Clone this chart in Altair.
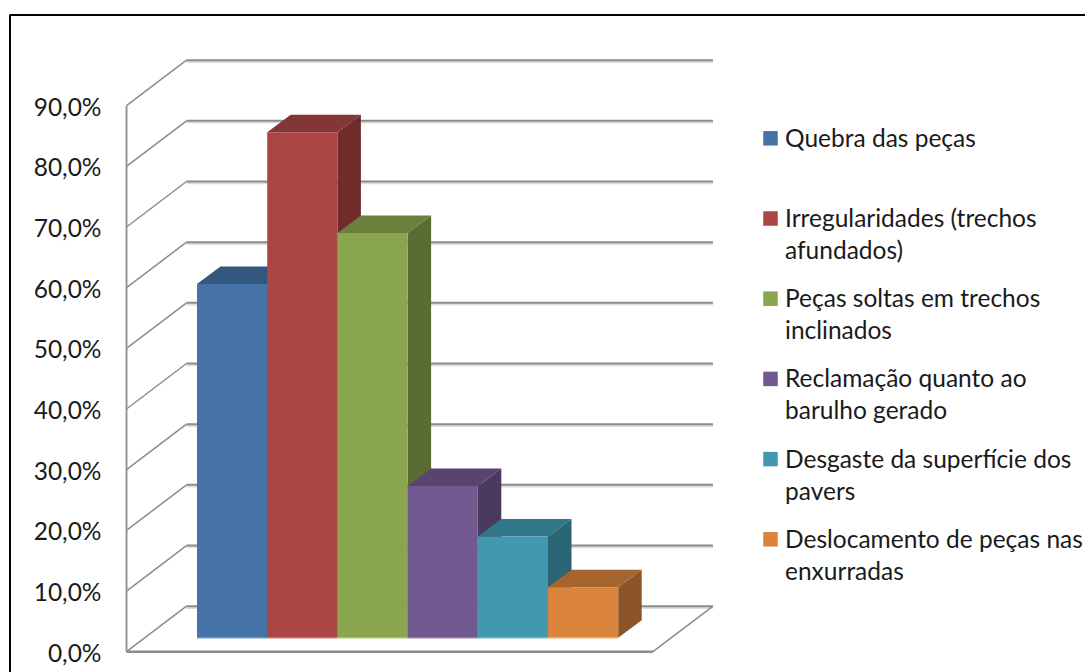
import altair as alt
import pandas as pd

# Survey results, one column per reported problem
labels = [
    ["Quebra das peças"],
    ["Irregularidades (trechos", "afundados)"],
    ["Peças soltas em trechos", "inclinados"],
    ["Reclamação quanto ao", "barulho gerado"],
    ["Desgaste da superfície dos", "pavers"],
    ["Deslocamento de peças nas", "enxurradas"],
]
values = [58.3, 83.3, 66.7, 25.0, 16.7, 8.3]
ticks = [0, 10, 20, 30, 40, 50, 60, 70, 80, 90]
face_colors = ["#4572A7", "#AA4643", "#89A54E", "#71588F", "#4198AF", "#DB843D"]
top_colors = ["#34577F", "#843535", "#6A803D", "#57446F", "#32768A", "#A6642E"]
side_colors = ["#2F4F74", "#6F2C2A", "#5A6C33", "#4A3A5E", "#2A6475", "#8B5527"]
base_colors = ["#6F94C4", "#C77573", "#A9C277", "#9280AC", "#6FB6C8", "#EDAA70"]

# Page layout of the oblique projection
W, H = 1085, 672
PAD_L, PAD_T = 10, 15
ZERO_Y = 651.7        # pixel row of 0 % on the front edge
PX_PER_UNIT = 6.067   # pixels per percentage point
WALL_L, WALL_R = 126.5, 186.5
FLOOR_R, BACK_R = 653.0, 713.0
WALL_DEPTH = 45.5 / PX_PER_UNIT
BAR_START = 197.0
BAR_W = 70.2
BAR_DX = 23.5
BAR_DEPTH = 17.5 / PX_PER_UNIT
BAR_BASE = 14.0 / PX_PER_UNIT
LEGEND_X, TEXT_X = 770.5, 785
LEGEND_TOP, LEGEND_STEP, LINE_STEP = 138.3, 80.2, 32
FONT = "Lato"
FONT_SIZE = 24.5
TEXT_COLOR = "#1A1A1A"


def units(py):
    """Convert a page row into percentage units."""
    return (ZERO_Y - py) / PX_PER_UNIT


x_scale = alt.Scale(domain=[PAD_L, W], range=[0, W - PAD_L], nice=False, zero=False)
y_scale = alt.Scale(domain=[units(H), units(PAD_T)], range=[H - PAD_T, 0], nice=False, zero=False)
X = alt.X("x:Q", scale=x_scale, axis=None)
Y = alt.Y(
    "y:Q",
    scale=y_scale,
    title=None,
    axis=alt.Axis(
        values=ticks,
        offset=-(102 - PAD_L),
        domain=False,
        ticks=False,
        grid=False,
        labelPadding=1,
        labelOffset=2.5,
        labelFont=FONT,
        labelFontSize=FONT_SIZE,
        labelColor=TEXT_COLOR,
        labelExpr="replace(format(datum.value, '.1f'), '.', ',') + '%'",
    ),
)

GRID = "#8C8C8C"
HALO = "#DDDDDD"
layers = []

# Left wall, floor and back-wall gridlines
back = pd.DataFrame({"x": WALL_L + 60, "x2": BACK_R, "y": [t + WALL_DEPTH for t in ticks]})
halo = back.assign(y=lambda d: d.y - 0.2)
layers.append(alt.Chart(halo).mark_rule(color=HALO, strokeWidth=3).encode(x=X, x2="x2:Q", y=Y))
layers.append(alt.Chart(back).mark_rule(color=GRID, strokeWidth=2).encode(x=X, x2="x2:Q", y=Y))

slants = pd.DataFrame(
    [{"x": WALL_L, "y": t, "t": t} for t in ticks]
    + [{"x": WALL_R, "y": t + WALL_DEPTH, "t": t} for t in ticks]
    + [{"x": FLOOR_R, "y": 0, "t": -1}, {"x": BACK_R, "y": WALL_DEPTH, "t": -1}]
)
layers.append(alt.Chart(slants).mark_line(color=GRID, strokeWidth=1.5).encode(x=X, y=Y, detail="t:N"))

# Front floor edge and the vertical axis line
floor = pd.DataFrame({"x": [WALL_L], "x2": [FLOOR_R], "y": [0]})
layers.append(alt.Chart(floor).mark_rule(color=GRID, strokeWidth=2.5).encode(x=X, x2="x2:Q", y=Y))
axis_line = pd.DataFrame({"x": [WALL_L], "y": [0], "y2": [90]})
layers.append(alt.Chart(axis_line).mark_rule(color="#969696", strokeWidth=2).encode(x=X, y=Y, y2="y2:Q"))

# Columns are painted left to right so each one overlaps its left neighbour's side
for i, value in enumerate(values):
    left = BAR_START + i * BAR_W
    right = left + BAR_W
    low = BAR_BASE
    high = value + BAR_BASE

    side = pd.DataFrame(
        {
            "x": [right, right + BAR_DX],
            "y": [low, low + BAR_DEPTH],
            "y2": [high, high + BAR_DEPTH],
        }
    )
    layers.append(alt.Chart(side).mark_area(color=side_colors[i], orient="vertical").encode(x=X, y=Y, y2="y2:Q"))

    top = pd.DataFrame(
        {
            "x": [left, left + BAR_DX],
            "x2": [right, right + BAR_DX],
            "y": [high, high + BAR_DEPTH],
        }
    )
    layers.append(alt.Chart(top).mark_area(color=top_colors[i], orient="horizontal").encode(x=X, x2="x2:Q", y=Y))

    face = pd.DataFrame({"x": [left], "x2": [right], "y": [low], "y2": [high]})
    layers.append(alt.Chart(face).mark_rect(color=face_colors[i]).encode(x=X, x2="x2:Q", y=Y, y2="y2:Q"))
    layers.append(alt.Chart(face).mark_rule(color=base_colors[i], strokeWidth=1.5).encode(x=X, x2="x2:Q", y=Y))

# Legend: one swatch per column, labels wrapped over up to two lines
for i, lines in enumerate(labels):
    row = LEGEND_TOP + i * LEGEND_STEP
    swatch = pd.DataFrame({"x": [LEGEND_X], "y": [units(row)]})
    layers.append(
        alt.Chart(swatch)
        .mark_point(shape="square", filled=True, size=210, opacity=1, color=face_colors[i])
        .encode(x=X, y=Y)
    )
    text = pd.DataFrame(
        {
            "x": TEXT_X,
            "y": [units(row + j * LINE_STEP) for j in range(len(lines))],
            "line": lines,
        }
    )
    layers.append(
        alt.Chart(text)
        .mark_text(align="left", baseline="middle", dy=1.5, font=FONT, fontSize=FONT_SIZE, color=TEXT_COLOR)
        .encode(x=X, y=Y, text="line:N")
    )

# Outer frame, open towards the right and bottom page edges
frame_top = pd.DataFrame({"x": [PAD_L - 0.5], "x2": [W], "y": [units(PAD_T)]})
frame_left = pd.DataFrame({"x": [PAD_L], "y": [units(PAD_T)], "y2": [units(H)]})
layers.append(alt.Chart(frame_top).mark_rule(color="black", strokeWidth=2).encode(x=X, x2="x2:Q", y=Y))
layers.append(alt.Chart(frame_left).mark_rule(color="black", strokeWidth=2).encode(x=X, y=Y, y2="y2:Q"))

chart = (
    alt.layer(*layers)
    .properties(
        width=W - PAD_L,
        height=H - PAD_T,
        padding={"left": PAD_L, "top": PAD_T, "right": 0, "bottom": 0},
        autosize=alt.AutoSizeParams(type="none"),
        background="white",
    )
    .configure_view(stroke=None)
)

chart.save("out.html", embed_options={"renderer": "svg", "actions": False})
